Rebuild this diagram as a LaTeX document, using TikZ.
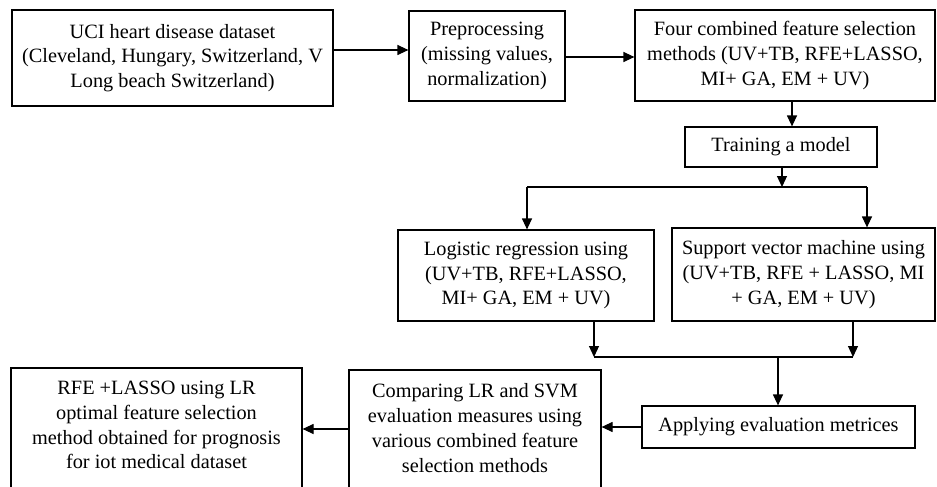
\documentclass[tikz,border=0pt]{standalone}
\usepackage{fontspec}
\setmainfont{Liberation Serif}
\usetikzlibrary{arrows.meta}
\begin{document}
\begin{tikzpicture}[x=1pt,y=-1pt,
  box/.style={draw, line width=1.2pt, inner sep=0pt, align=center, font=\fontsize{20.3}{24.8}\selectfont},
  txt/.style={inner sep=0pt, align=center, font=\fontsize{20.3}{24.8}\selectfont},
  arr/.style={line width=1.2pt, -{Triangle[length=11pt,width=10pt]}},
  ln/.style={line width=1.2pt}]
\useasboundingbox (0,0) rectangle (937,487);
\clip (0,0) rectangle (937,487);
\fill[white] (0,0) rectangle (937,487);

\node[box, minimum width=321pt, minimum height=96pt] (uci) at (172.5,58)
  {UCI heart disease dataset\\(Cleveland, Hungary, Switzerland, V\\Long beach Switzerland)};
\node[box, minimum width=156pt, minimum height=90pt] (pre) at (487,56)
  {Preprocessing\\(missing values,\\normalization)};
\node[box, minimum width=300pt, minimum height=91pt] (four) at (785,55.5)
  {Four combined feature selection\\methods (UV+TB, RFE+LASSO,\\MI+ GA, EM + UV)};
\node[box, minimum width=192pt, minimum height=40pt] (train) at (781,147)
  {Training a model};
\node[box, minimum width=256pt, minimum height=91pt] (lr) at (526,275.5)
  {Logistic regression using\\(UV+TB, RFE+LASSO,\\MI+ GA, EM + UV)};
\node[box, minimum width=263pt, minimum height=93pt] (svm) at (803.5,274.5)
  {Support vector machine using\\(UV+TB, RFE + LASSO, MI\\+ GA, EM + UV)};
\node[box, minimum width=273pt, minimum height=42pt] (apply) at (778.5,427)
  {Applying evaluation metrices};
\node[box, minimum width=252pt, minimum height=130pt] (comp) at (475,435) {};
\node[txt] (comptext) at (475,428)
  {Comparing LR and SVM\\evaluation measures using\\various combined feature\\selection methods};
\node[box, minimum width=291pt, minimum height=132pt] (rfe) at (156.5,434) {};
\node[txt] (rfetext) at (156.5,425)
  {RFE +LASSO using LR\\optimal feature selection\\method obtained for prognosis\\for iot medical dataset};

\coordinate (split) at (782,187);
\coordinate (bl) at (527,187);
\coordinate (br) at (867,187);
\coordinate (ml) at (594,357);
\coordinate (mr) at (853,357);
\coordinate (mm) at (778,357);

\draw[arr] (uci.east |- 0,50) -- (pre.west |- 0,50);
\draw[arr] (pre.east |- 0,57) -- (four.west |- 0,57);
\draw[arr] (four.south -| 792,0) -- (train.north -| 792,0);
\draw[arr] (train.south -| split) -- (split);
\draw[ln] (bl) -- (br);
\draw[arr] (bl) -- (lr.north -| bl);
\draw[arr] (br) -- (svm.north -| br);
\draw[arr] (lr.south -| ml) -- (ml);
\draw[arr] (svm.south -| mr) -- (mr);
\draw[ln] (ml) -- (mr);
\draw[arr] (mm) -- (apply.north -| mm);
\draw[arr] (apply.west) -- (comp.east |- apply.west);
\draw[arr] (comp.west |- 0,429) -- (rfe.east |- 0,429);
\end{tikzpicture}
\end{document}
